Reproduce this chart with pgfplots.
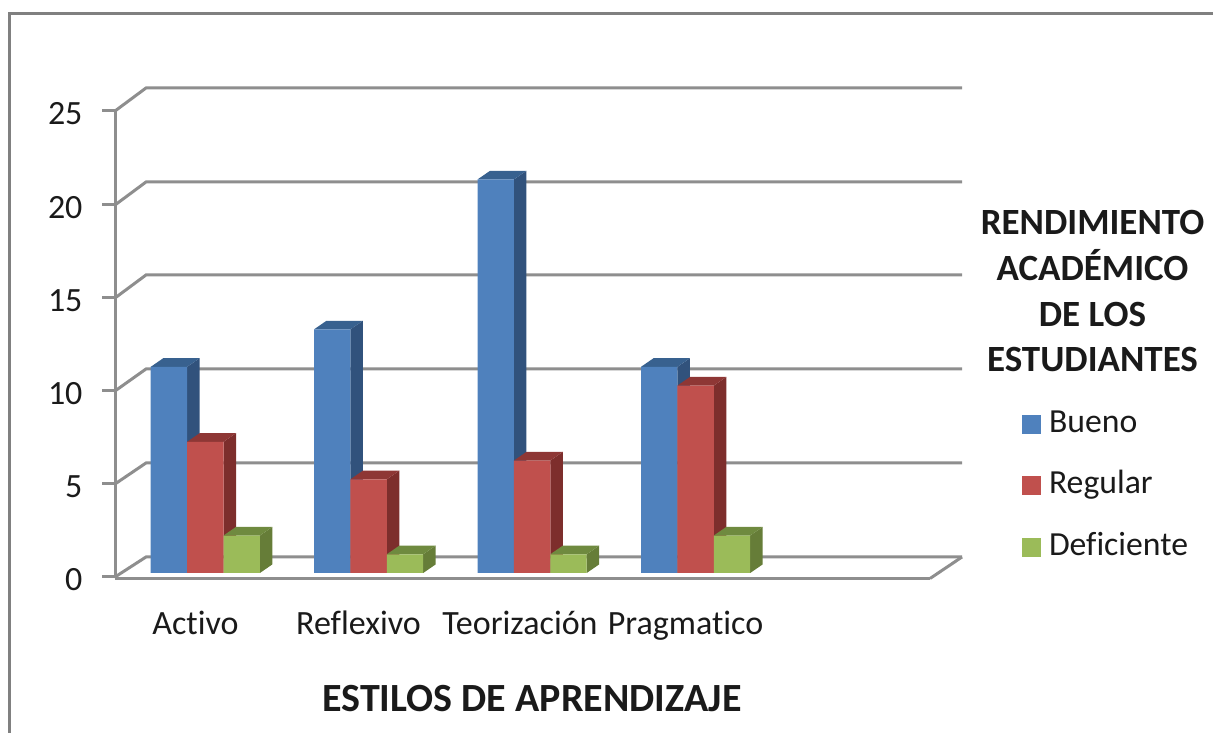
\documentclass[border=0pt]{standalone}
\usepackage{fontspec}
\setmainfont[Ligatures=NoCommon]{Carlito}
\usepackage{pgfplots}
\pgfplotsset{compat=1.18}
\definecolor{gridg}{HTML}{8E8E8E}
\definecolor{frameg}{HTML}{808080}
\definecolor{txt}{HTML}{1A1A1A}
\definecolor{bF}{HTML}{4F81BD}\definecolor{bS}{HTML}{31527C}\definecolor{bT}{HTML}{38618F}
\definecolor{rF}{HTML}{C0504D}\definecolor{rS}{HTML}{7D2E2C}\definecolor{rT}{HTML}{8E3735}
\definecolor{gF}{HTML}{9BBB59}\definecolor{gS}{HTML}{667D38}\definecolor{gT}{HTML}{6F8A3F}
\newcommand{\grid}[2]{%
  \addplot[gridg,line width=3pt,forget plot] coordinates {(115,#1)(146,#2)(962,#2)};
}
\pgfplotsset{swatch/.style={legend image code/.code={\fill[##1,draw=none] (0pt,-9.5pt) rectangle (19pt,9.5pt);}}}
\begin{document}
\begin{tikzpicture}
\path[use as bounding box] (-115pt,-154.5pt) rectangle (1098pt,578.5pt);
\begin{axis}[
  scale only axis, width=815pt, height=467.5pt,
  xmin=115, xmax=930, ymin=-0.2935, ymax=24.653,
  axis x line=bottom, axis y line=left,
  axis line style={gridg,line width=3pt,-},
  clip=false,
  xtick={195.5,358.5,520,685.5},
  xticklabels={Activo,Reflexivo,Teorización,Pragmatico},
  ytick={-0.213,4.749,9.712,14.675,19.637,24.653},
  yticklabels={0,5,10,15,20,25},
  xtick style={draw=none},
  ytick style={gridg,line width=3pt},
  tick align=outside, major tick length=13pt,
  tick label style={font=\fontsize{34}{40}\selectfont,text=txt},
  xticklabel style={yshift=-16pt},
  yticklabel style={xshift=-16pt,yshift=-3pt},
  /pgf/number format/assume math mode=true,
  legend style={at={(axis cs:1022,8.8)},anchor=north west,draw=none,fill=none,
    font=\fontsize{33.7}{40}\selectfont,text=txt,row sep=29.5pt,
    inner sep=0pt,outer sep=0pt,
    nodes={text height=24pt,text depth=8pt,inner xsep=8pt,inner ysep=0pt}},
  legend cell align=left,
]
\grid{-0.213}{0.854}
\grid{4.749}{5.87}
\grid{9.712}{10.886}
\grid{14.675}{15.902}
\grid{19.637}{20.864}
\grid{24.653}{25.88}
\addplot[gridg,line width=3pt,forget plot] coordinates {(930,-0.2935)(962,0.854)};

% Bueno
\addplot[fill=bS,draw=none,forget plot] coordinates {(187.1,11)(199.6,11.46)(199.6,0.46)(187.1,0)} --cycle;
\addplot[fill=bT,draw=none,forget plot] coordinates {(150.7,11)(163.2,11.46)(199.6,11.46)(187.1,11)} --cycle;
\addplot[fill=bS,draw=none,forget plot] coordinates {(350.4,13)(362.9,13.46)(362.9,0.46)(350.4,0)} --cycle;
\addplot[fill=bT,draw=none,forget plot] coordinates {(314,13)(326.5,13.46)(362.9,13.46)(350.4,13)} --cycle;
\addplot[fill=bS,draw=none,forget plot] coordinates {(513.9,21)(526.4,21.46)(526.4,0.46)(513.9,0)} --cycle;
\addplot[fill=bT,draw=none,forget plot] coordinates {(477.5,21)(490,21.46)(526.4,21.46)(513.9,21)} --cycle;
\addplot[fill=bS,draw=none,forget plot] coordinates {(677.4,11)(689.9,11.46)(689.9,0.46)(677.4,0)} --cycle;
\addplot[fill=bT,draw=none,forget plot] coordinates {(641,11)(653.5,11.46)(689.9,11.46)(677.4,11)} --cycle;
\addplot[ybar,bar width=36.4pt,bar shift=0pt,fill=bF,draw=none,swatch]
  coordinates {(168.9,11)(332.2,13)(495.7,21)(659.2,11)};
\addlegendentry{Bueno}

% Regular
\addplot[fill=rS,draw=none,forget plot] coordinates {(223.5,7)(236,7.46)(236,0.46)(223.5,0)} --cycle;
\addplot[fill=rT,draw=none,forget plot] coordinates {(187.1,7)(199.6,7.46)(236,7.46)(223.5,7)} --cycle;
\addplot[fill=rS,draw=none,forget plot] coordinates {(386.8,5)(399.3,5.46)(399.3,0.46)(386.8,0)} --cycle;
\addplot[fill=rT,draw=none,forget plot] coordinates {(350.4,5)(362.9,5.46)(399.3,5.46)(386.8,5)} --cycle;
\addplot[fill=rS,draw=none,forget plot] coordinates {(550.3,6)(562.8,6.46)(562.8,0.46)(550.3,0)} --cycle;
\addplot[fill=rT,draw=none,forget plot] coordinates {(513.9,6)(526.4,6.46)(562.8,6.46)(550.3,6)} --cycle;
\addplot[fill=rS,draw=none,forget plot] coordinates {(713.8,10)(726.3,10.46)(726.3,0.46)(713.8,0)} --cycle;
\addplot[fill=rT,draw=none,forget plot] coordinates {(677.4,10)(689.9,10.46)(726.3,10.46)(713.8,10)} --cycle;
\addplot[ybar,bar width=36.4pt,bar shift=0pt,fill=rF,draw=none,swatch]
  coordinates {(205.3,7)(368.6,5)(532.1,6)(695.6,10)};
\addlegendentry{Regular}

% Deficiente
\addplot[fill=gS,draw=none,forget plot] coordinates {(259.9,2)(272.4,2.46)(272.4,0.46)(259.9,0)} --cycle;
\addplot[fill=gT,draw=none,forget plot] coordinates {(223.5,2)(236,2.46)(272.4,2.46)(259.9,2)} --cycle;
\addplot[fill=gS,draw=none,forget plot] coordinates {(423.2,1)(435.7,1.46)(435.7,0.46)(423.2,0)} --cycle;
\addplot[fill=gT,draw=none,forget plot] coordinates {(386.8,1)(399.3,1.46)(435.7,1.46)(423.2,1)} --cycle;
\addplot[fill=gS,draw=none,forget plot] coordinates {(586.7,1)(599.2,1.46)(599.2,0.46)(586.7,0)} --cycle;
\addplot[fill=gT,draw=none,forget plot] coordinates {(550.3,1)(562.8,1.46)(599.2,1.46)(586.7,1)} --cycle;
\addplot[fill=gS,draw=none,forget plot] coordinates {(750.2,2)(762.7,2.46)(762.7,0.46)(750.2,0)} --cycle;
\addplot[fill=gT,draw=none,forget plot] coordinates {(713.8,2)(726.3,2.46)(762.7,2.46)(750.2,2)} --cycle;
\addplot[ybar,bar width=36.4pt,bar shift=0pt,fill=gF,draw=none,swatch]
  coordinates {(241.7,2)(405,1)(568.5,1)(732,2)};
\addlegendentry{Deficiente}

\addplot[frameg,line width=3pt,forget plot] coordinates {(10,-8.538)(10,29.88)(1213,29.88)};
\node[font=\fontsize{37}{45.6}\selectfont\bfseries,text=txt,align=center,anchor=center]
  at (axis cs:1092.5,15.03) {RENDIMIENTO\\ACADÉMICO\\DE LOS\\ESTUDIANTES};
\node[font=\fontsize{40}{46}\selectfont\bfseries,text=txt,anchor=center]
  at (axis cs:532,-6.72) {ESTILOS DE APRENDIZAJE};
\end{axis}
\end{tikzpicture}
\end{document}
